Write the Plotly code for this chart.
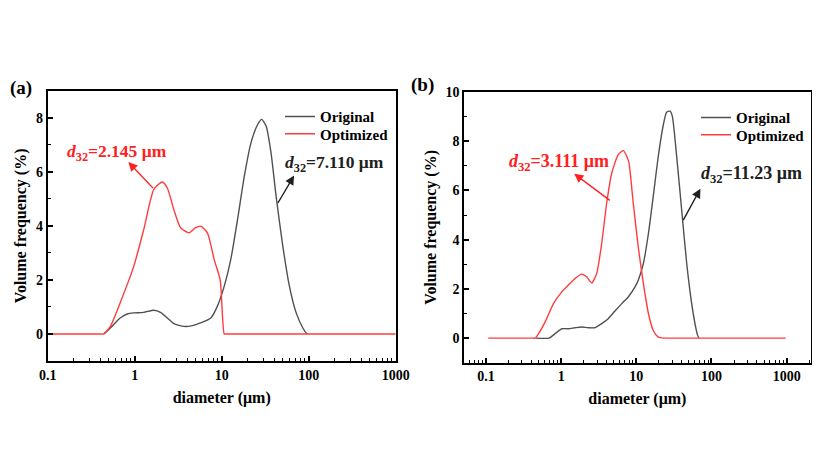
import plotly.graph_objects as go

# ---------------- data ----------------
A_ORIG_X = [0.44, 0.525, 0.68, 0.82, 0.975, 1.27, 1.66, 1.98, 2.37, 2.82, 3.69, 4.6, 5.7, 7.5, 8.9,
            10.7, 12.7, 15.2, 18.2, 21.7, 25.9, 28.8, 32.4, 36.9, 42.2, 50.4, 60, 71.8, 85.7, 93.5, 97]
A_ORIG_Y = [0, 0.22, 0.59, 0.74, 0.78, 0.8, 0.88, 0.8, 0.59, 0.38, 0.28, 0.31, 0.41, 0.59, 1.02,
            1.77, 2.75, 4.23, 5.84, 7.07, 7.75, 7.94, 7.69, 6.7, 5.1, 3.25, 1.77, 0.78, 0.22, 0.04, 0]

A_OPT_X = [0.10, 0.40, 0.44, 0.525, 0.68, 0.975, 1.27, 1.66, 2.07, 2.37, 2.82, 3.37, 4.2, 5.0, 5.7, 6.85,
           8.2, 9.6, 10.7, 11.2, 12.0, 1000]
A_OPT_Y = [0, 0, 0, 0.28, 1.15, 2.5, 3.86, 5.35, 5.62, 5.4, 4.6, 3.93, 3.74, 3.93, 3.99, 3.74,
           2.75, 2.0, 0, 0, 0, 0]

B_ORIG_X = [0.457, 0.69, 0.83, 1.02, 1.24, 1.53, 1.87, 2.29, 2.8, 3.46, 4.23, 5.2, 6.4, 7.8, 9.6,
            10.6, 12.4, 14.5, 16.8, 19.6, 22.9, 25.3, 28.1, 30.1, 34.4, 40.1, 46.8, 54.5, 60.3, 65.4, 68]
B_ORIG_Y = [0, 0, 0.18, 0.38, 0.38, 0.42, 0.45, 0.42, 0.42, 0.59, 0.79, 1.1, 1.4, 1.67, 2.08,
            2.35, 3.03, 4.26, 5.76, 7.39, 8.68, 9.18, 9.22, 9.02, 7.39, 5.21, 3.03, 1.4, 0.59, 0.11, 0]

B_OPT_X = [0.107, 0.40, 0.449, 0.50, 0.61, 0.79, 1.02, 1.24, 1.53, 1.87, 2.18, 2.55, 2.97, 3.46, 4.03, 4.7,
           5.76, 6.72, 7.44, 7.98, 9.1, 10.6, 12.4, 14.5, 16.8, 19.6, 23, 26, 970]
B_OPT_Y = [0, 0, 0, 0.18, 0.65, 1.4, 1.88, 2.15, 2.42, 2.6, 2.49, 2.24, 2.63, 3.85, 5.48, 6.7,
           7.46, 7.62, 7.39, 7.12, 5.48, 3.71, 2.22, 0.99, 0.31, 0.04, 0, 0, 0]

SERIES_NAMES = ["Original", "Optimized"]
X_TICKS = [0.1, 1, 10, 100, 1000]
X_TICK_TEXT = ["0.1", "1", "10", "100", "1000"]
D32_A = ["2.145", "7.110"]
D32_B = ["3.111", "11.23"]

# ---------------- style ----------------
GRAY = "#505050"
RED = "#ff3c3c"
FONT = "Liberation Serif"
OFF = 8  # page body margin offset in px

minor_log = [m * 10 ** e for e in range(-2, 4) for m in range(2, 10)]

W, H = 820, 460


def xdom(l, r):
    return [(l - OFF) / W, (r - OFF) / W]


def ydom(t, b):
    return [1 - (b - OFF) / H, 1 - (t - OFF) / H]


def px_x(x):
    return (x - OFF) / W


def px_y(y):
    return 1 - (y - OFF) / H


LINE = dict(mode="lines", line_shape="spline", showlegend=True)

fig = go.Figure()
fig.add_trace(go.Scatter(x=A_ORIG_X, y=A_ORIG_Y, name=SERIES_NAMES[0], **LINE,
                         line=dict(color=GRAY, width=1.4, smoothing=0.6),
                         xaxis="x", yaxis="y", legend="legend"))
fig.add_trace(go.Scatter(x=A_OPT_X, y=A_OPT_Y, name=SERIES_NAMES[1], **LINE,
                         line=dict(color=RED, width=1.4, smoothing=0.6),
                         xaxis="x", yaxis="y", legend="legend2"))
fig.add_trace(go.Scatter(x=B_ORIG_X, y=B_ORIG_Y, name=SERIES_NAMES[0], **LINE,
                         line=dict(color=GRAY, width=1.4, smoothing=0.6),
                         xaxis="x2", yaxis="y2", legend="legend3"))
fig.add_trace(go.Scatter(x=B_OPT_X, y=B_OPT_Y, name=SERIES_NAMES[1], **LINE,
                         line=dict(color=RED, width=1.4, smoothing=0.6),
                         xaxis="x2", yaxis="y2", legend="legend4"))


def xaxis_style(dom, rng, anchor):
    return dict(domain=dom, type="log", range=rng, anchor=anchor, automargin=False,
                tickmode="array", tickvals=X_TICKS, ticktext=X_TICK_TEXT,
                ticks="inside", ticklen=5, tickwidth=1.5, tickcolor="black",
                showline=True, linecolor="black", linewidth=1.6, mirror=True,
                showgrid=False, zeroline=False,
                minor=dict(tickmode="array", tickvals=minor_log, ticks="inside",
                           ticklen=3, tickwidth=1.2, tickcolor="black", showgrid=False),
                tickfont=dict(family=FONT, size=14, color="black", weight="bold"),
                title=dict(text="diameter (μm)", standoff=10,
                           font=dict(family=FONT, size=16, color="black", weight="bold")))


def yaxis_style(dom, rng, anchor):
    return dict(domain=dom, range=rng, anchor=anchor, automargin=False,
                tickmode="linear", tick0=0, dtick=2,
                ticks="inside", ticklen=5, tickwidth=1.5, tickcolor="black",
                showline=True, linecolor="black", linewidth=1.6, mirror=True,
                showgrid=False, zeroline=False,
                minor=dict(tickmode="linear", tick0=-1, dtick=1, ticks="inside", ticklen=3,
                           tickwidth=1.2, tickcolor="black", showgrid=False),
                tickfont=dict(family=FONT, size=14, color="black", weight="bold"),
                title=dict(text="Volume frequency (%)", standoff=5,
                           font=dict(family=FONT, size=16, color="black", weight="bold")))


def legend_at(x, y):
    return dict(x=px_x(x), y=px_y(y), xanchor="left", yanchor="middle", visible=True,
                bgcolor="rgba(0,0,0,0)", itemwidth=30,
                font=dict(family=FONT, size=15, color="black", weight="bold"))


fig.update_layout(
    width=W, height=H, margin=dict(l=0, r=0, t=0, b=0, autoexpand=False),
    paper_bgcolor="white", plot_bgcolor="white", showlegend=True,
    font=dict(family=FONT, color="black", weight="bold"),
    xaxis=xaxis_style(xdom(47.7, 395.7), [-1, 3], "y"),
    yaxis=yaxis_style(ydom(90.7, 361), [-1, 9], "x"),
    xaxis2=xaxis_style(xdom(464, 810.7), [-1.293, 3.32], "y2"),
    yaxis2=yaxis_style(ydom(92, 362.7), [-1, 10], "x2"),
    legend=legend_at(280, 116.7),
    legend2=legend_at(280, 134),
    legend3=legend_at(696, 117.7),
    legend4=legend_at(696, 135),
)


def d32_text(val):
    return "<b><i>d</i><sub>32</sub>=" + val + " μm</b>"


def add_label(xr, yr, xlog, y, text, color, size):
    fig.add_annotation(xref=xr, yref=yr, x=xlog, y=y, text=text, showarrow=False,
                       xanchor="left", yanchor="middle",
                       font=dict(family=FONT, size=size, color=color, weight="bold"))


def add_arrow(xr, yr, hx, hy, tx, ty, color):
    fig.add_annotation(xref=xr, yref=yr, axref=xr, ayref=yr, x=hx, y=hy, ax=tx, ay=ty,
                       text="", showarrow=True, arrowhead=2, arrowsize=1.3,
                       arrowwidth=1.4, arrowcolor=color)


# panel (a)
add_label("x", "y", -0.80, 6.71, d32_text(D32_A[0]), "#ff2020", 17.5)
add_arrow("x", "y", -0.073, 6.36, 0.2275, 5.34, "#ff2020")
add_label("x", "y", 1.70, 6.31, d32_text(D32_A[1]), "#202020", 17.5)
add_arrow("x", "y", 1.832, 5.86, 1.636, 4.79, "#202020")

# panel (b)
add_label("x2", "y2", -0.72, 7.13, d32_text(D32_B[0]), "#ff2020", 18)
add_arrow("x2", "y2", 0.173, 6.68, 0.667, 5.55, "#ff2020")
add_label("x2", "y2", 1.84, 6.64, d32_text(D32_B[1]), "#202020", 18)
add_arrow("x2", "y2", 1.853, 6.07, 1.613, 4.73, "#202020")

# panel letters
fig.add_annotation(xref="paper", yref="paper", x=px_x(8), y=px_y(88), text="<b>(a)</b>",
                   showarrow=False, xanchor="left", yanchor="middle",
                   font=dict(family=FONT, size=19, color="black"))
fig.add_annotation(xref="paper", yref="paper", x=px_x(409), y=px_y(85), text="<b>(b)</b>",
                   showarrow=False, xanchor="left", yanchor="middle",
                   font=dict(family=FONT, size=19, color="black"))

fig.write_html("out.html")
